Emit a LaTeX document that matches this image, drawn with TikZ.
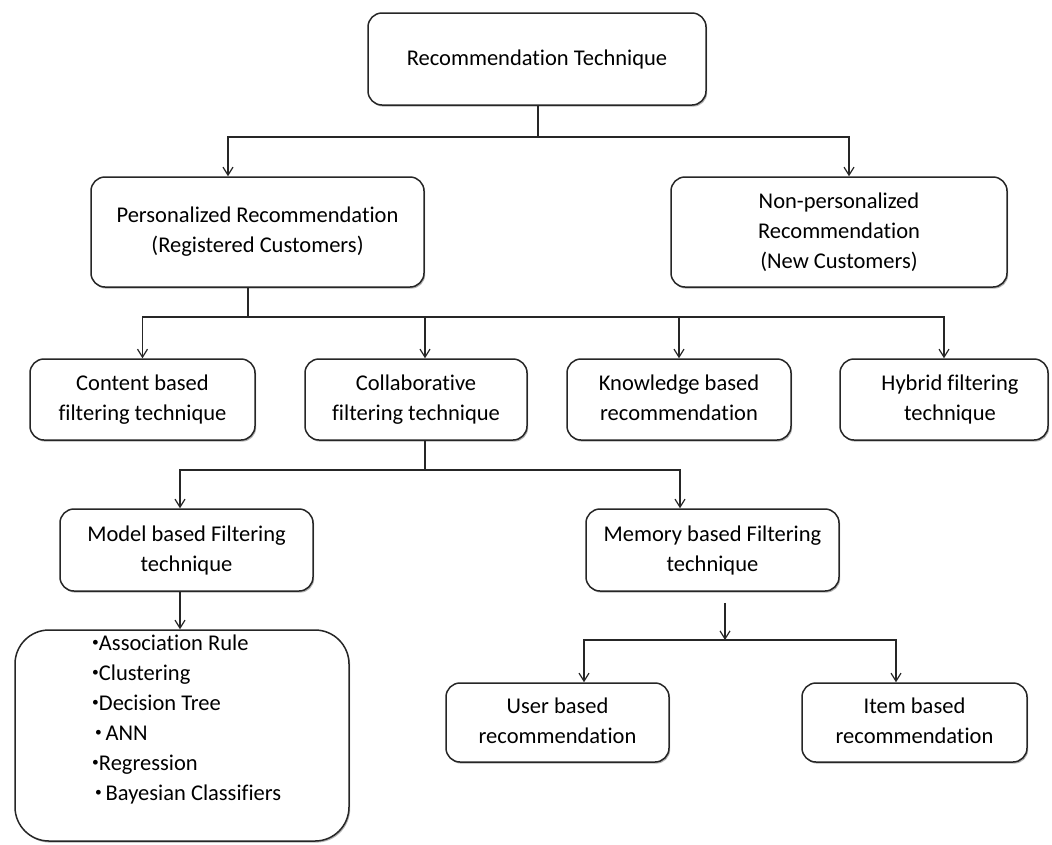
\documentclass[tikz,border=0pt]{standalone}
\usepackage{fontspec}
\setmainfont{Carlito}[Ligatures=NoCommon]
\usetikzlibrary{arrows.meta,shadows}
\newcommand\mybul{\raisebox{0.18em}{\scalebox{0.6}{•}}}
\newcommand\mydep{\vphantom{g}}
\begin{document}
\begin{tikzpicture}[x=1pt,y=-1pt,
  box/.style={draw=black!85, line width=1.5pt, rounded corners=14pt, align=center,
    font=\fontsize{22.5}{30}\selectfont, inner sep=0pt,
    drop shadow={shadow xshift=1.2pt, shadow yshift=-1.6pt, fill=black!50, opacity=0.6}, fill=white},
  link/.style={draw=black!85, line width=1.2pt},
  arr/.style={link, -{Straight Barb[length=8pt,width=10pt,line width=1.2pt]}}]
\useasboundingbox (0,0) rectangle (1052,844);
\fill[white] (0,0) rectangle (1052,844);

\node[box, minimum width=338pt, minimum height=92pt] (top) at (537,59) {Recommendation Technique};
\node[box, minimum width=333pt, minimum height=110pt] (pers) at (257.5,232) {Personalized Recommendation\\(Registered Customers)};
\node[box, minimum width=336pt, minimum height=110pt] (nonp) at (839,232) {Non-personalized\\Recommendation\\(New Customers)};

\node[box, minimum width=225pt, minimum height=81pt] (content) at (142.5,399.5) {Content based\\filtering technique};
\node[box, minimum width=222pt, minimum height=81pt] (collab) at (416,399.5) {Collaborative\\filtering technique};
\node[box, minimum width=224pt, minimum height=81pt] (know) at (679,399.5) {Knowledge based\\recommendation\mydep};
\node[box, minimum width=208pt, minimum height=81pt] (hybrid) at (944,399.5) {\hspace*{12pt}Hybrid filtering\\\hspace*{12pt}technique};

\node[box, minimum width=253pt, minimum height=82pt] (model) at (186.5,550) {Model based Filtering\\technique};
\node[box, minimum width=253pt, minimum height=82pt] (memory) at (712.5,550) {Memory based Filtering\\technique};

\node[box, rounded corners=34pt, minimum width=334pt, minimum height=211pt, drop shadow={opacity=0}] (list) at (182,735.5) {};
\node[font=\fontsize{22.5}{30}\selectfont, align=left, anchor=north west, inner sep=0pt] (items) at (92,635)
  {\mybul Association Rule\\\mybul Clustering\\\mybul Decision Tree\\\hspace*{3pt}\mybul\,ANN\\\mybul Regression\\\hspace*{3pt}\mybul\,Bayesian Classifiers};

\node[box, minimum width=223pt, minimum height=79pt] (user) at (557.5,722.5) {User based\\recommendation\mydep};
\node[box, minimum width=225pt, minimum height=79pt] (item) at (914.5,722.5) {Item based\\recommendation\mydep};

% level 1
\coordinate (j1) at (538,137);
\draw[link] (top.south -| j1) -- (j1);
\draw[arr] (j1) -| ([xshift=-29.5pt]pers.north);
\draw[arr] (j1) -| ([xshift=10pt]nonp.north);

% level 2
\coordinate (j2) at (248,317);
\draw[link] ([xshift=-9.5pt]pers.south) -- (j2);
\draw[arr] (j2) -| (content.north);
\draw[arr] (j2) -| ([xshift=9pt]collab.north);
\draw[arr] (j2) -| (know.north);
\draw[arr] (j2) -| (hybrid.north);

% level 3
\coordinate (j3) at (425,470);
\draw[link] ([xshift=9pt]collab.south) -- (j3);
\draw[arr] (j3) -| ([xshift=-6.5pt]model.north);
\draw[arr] (j3) -| ([xshift=-32.5pt]memory.north);

% model to list
\draw[arr] ([xshift=-6.5pt]model.south) -- ([xshift=-2pt]list.north);

% memory to user/item
\coordinate (m0) at ([xshift=12.5pt,yshift=-11pt]memory.south);
\coordinate (j4) at (725,640);
\draw[arr] (m0) -- (j4);
\draw[arr] (j4) -| ([xshift=26.5pt]user.north);
\draw[arr] (j4) -| ([xshift=-18.5pt]item.north);
\end{tikzpicture}
\end{document}
